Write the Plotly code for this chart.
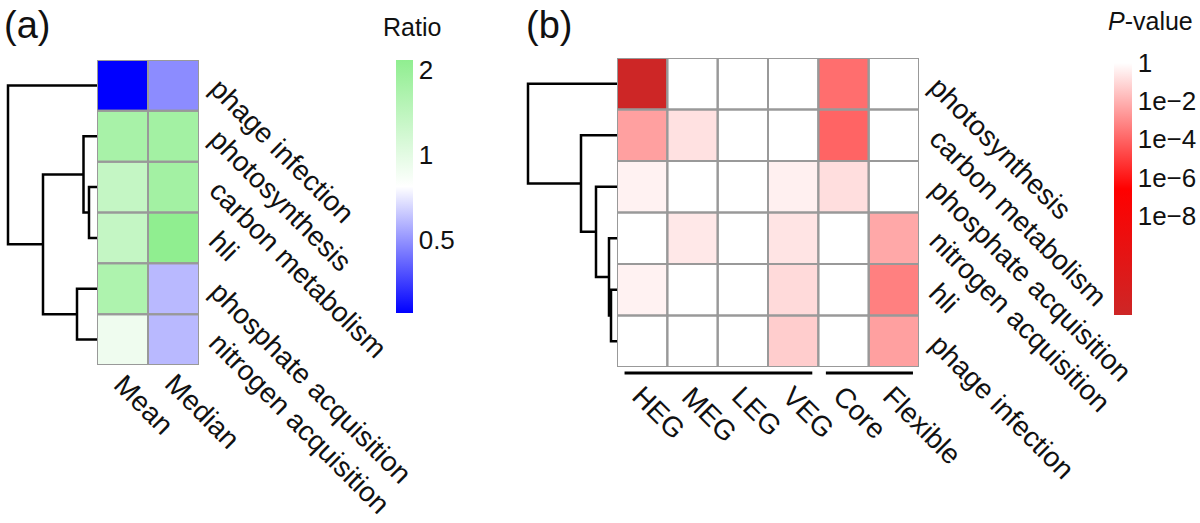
import math
import plotly.graph_objects as go

W, H = 1200, 523
FONT = "Liberation Sans"
FS = 28      # row / column labels
FT = 26      # colorbar tick labels
FTT = 25     # colorbar titles

# ---------------- Panel (a) data ----------------
ratio_rows = ["phage infection", "photosynthesis", "carbon metabolism", "hli",
              "phosphate acquisition", "nitrogen acquisition"]
ratio_cols = ["Mean", "Median"]
ratio_log2_mean = [-1.86, 0.80, 0.42, 0.42, 0.72, -0.15]
ratio_log2_median = [-1.04, 0.86, 0.86, 1.12, -0.78, -0.78]
ratio_ticks = [2, 1, 0.5]
ratio_log2_range = [-1.86, 1.12]
# dendrogram merges (child A, child B, height); nodes 6.. are merged clusters
ratio_merges = [(2, 3, 8), (1, 6, 13.5), (4, 5, 20), (7, 8, 54), (0, 9, 89)]

# ---------------- Panel (b) data ----------------
p_rows = ["photosynthesis", "carbon metabolism", "phosphate acquisition",
          "nitrogen acquisition", "hli", "phage infection"]
p_cols = ["HEG", "MEG", "LEG", "VEG", "Core", "Flexible"]
p_groups = [["HEG", "MEG", "LEG", "VEG"], ["Core", "Flexible"]]
p_log10_HEG = [-13.2, -2.46, -0.34, 0.0, -0.34, 0.0]
p_log10_MEG = [0.0, -0.78, 0.0, -0.6, 0.0, 0.0]
p_log10_LEG = [0.0, 0.0, 0.0, 0.0, 0.0, 0.0]
p_log10_VEG = [0.0, 0.0, -0.39, -0.7, -0.96, -1.3]
p_log10_Core = [-3.75, -4.0, -0.85, 0.0, 0.0, 0.0]
p_log10_Flexible = [0.0, 0.0, 0.0, -2.25, -3.3, -2.46]
p_ticks = [1, 1e-2, 1e-4, 1e-6, 1e-8]
p_tick_text = ["1", "1e\u22122", "1e\u22124", "1e\u22126", "1e\u22128"]
p_log10_range = [-13.2, 0.0]
p_merges = [(4, 5, 6), (3, 6, 8), (2, 7, 21), (1, 8, 36), (0, 9, 89)]


def px(x):
    return x / W


def py(y):
    return 1 - y / H


def dendro(merges, n):
    pos = {i: float(i) for i in range(n)}
    hgt = {i: 0.0 for i in range(n)}
    xs, ys = [], []
    for k, (a, b, h) in enumerate(merges):
        xs += [hgt[a], h, h, hgt[b], None]
        ys += [pos[a], pos[a], pos[b], pos[b], None]
        pos[n + k] = (pos[a] + pos[b]) / 2
        hgt[n + k] = h
    return xs, ys


fig = go.Figure()
tickf = dict(size=FT, family=FONT, color="#111")

# ---- heatmap (a)
za = [[m, d] for m, d in zip(ratio_log2_mean, ratio_log2_median)]
fig.add_trace(go.Heatmap(
    z=za, x=list(range(len(ratio_cols))), y=list(range(len(ratio_rows))),
    xaxis="x", yaxis="y",
    zmin=ratio_log2_range[0], zmax=ratio_log2_range[1],
    colorscale=[[0, "#0000FF"], [0.5, "#FFFFFF"], [1, "#90EE90"]],
    colorbar=dict(
        x=px(396), xanchor="left", xpad=0, y=py(60), yanchor="top", ypad=0,
        len=253, lenmode="pixels", thickness=17, outlinewidth=0,
        tickvals=[math.log2(v) for v in ratio_ticks],
        ticktext=[str(v) for v in ratio_ticks],
        ticks="", ticklen=0, tickfont=tickf,
    ),
    hoverinfo="skip",
))

# ---- heatmap (b)
pcols_vals = [p_log10_HEG, p_log10_MEG, p_log10_LEG, p_log10_VEG, p_log10_Core, p_log10_Flexible]
zb = [[pcols_vals[j][i] for j in range(len(p_cols))] for i in range(len(p_rows))]
fig.add_trace(go.Heatmap(
    z=zb, x=list(range(len(p_cols))), y=list(range(len(p_rows))),
    xaxis="x2", yaxis="y2",
    zmin=p_log10_range[0], zmax=p_log10_range[1],
    colorscale=[[0, "#CD2626"], [0.5, "#FF0000"], [1, "#FFFFFF"]],
    colorbar=dict(
        x=px(1114), xanchor="left", xpad=0, y=py(63), yanchor="top", ypad=0,
        len=252, lenmode="pixels", thickness=18, outlinewidth=0,
        tickvals=[math.log10(v) for v in p_ticks], ticktext=p_tick_text,
        ticks="", ticklen=0, tickfont=tickf,
    ),
    hoverinfo="skip",
))

# ---- dendrograms
dxa, dya = dendro(ratio_merges, len(ratio_rows))
fig.add_trace(go.Scatter(x=dxa, y=dya, xaxis="x3", yaxis="y3", mode="lines",
                         line=dict(color="black", width=2.5), hoverinfo="skip", showlegend=False))
dxb, dyb = dendro(p_merges, len(p_rows))
fig.add_trace(go.Scatter(x=dxb, y=dyb, xaxis="x4", yaxis="y4", mode="lines",
                         line=dict(color="black", width=2.5), hoverinfo="skip", showlegend=False))

hidden = dict(showticklabels=False, showgrid=False, zeroline=False, ticks="", showline=False)

ya_dom = [py(365), py(60)]
yb_dom = [py(367), py(58)]
fig.update_layout(
    width=W, height=H, margin=dict(l=0, r=0, t=0, b=0),
    paper_bgcolor="white", plot_bgcolor="white", showlegend=False,
    font=dict(family=FONT, size=FS, color="#111"),
    xaxis=dict(domain=[px(97), px(199)], range=[-0.5, len(ratio_cols) - 0.5], anchor="y", **hidden),
    yaxis=dict(domain=ya_dom, range=[len(ratio_rows) - 0.5, -0.5], anchor="x", **hidden),
    xaxis2=dict(domain=[px(617), px(919)], range=[-0.5, len(p_cols) - 0.5], anchor="y2", **hidden),
    yaxis2=dict(domain=yb_dom, range=[len(p_rows) - 0.5, -0.5], anchor="x2", **hidden),
    xaxis3=dict(domain=[0, px(97)], range=[97, 0], anchor="y3", **hidden),
    yaxis3=dict(domain=ya_dom, range=[len(ratio_rows) - 0.5, -0.5], anchor="x3", **hidden),
    xaxis4=dict(domain=[px(520), px(617)], range=[97, 0], anchor="y4", **hidden),
    yaxis4=dict(domain=yb_dom, range=[len(p_rows) - 0.5, -0.5], anchor="x4", **hidden),
)

shapes = []
# cell borders
for xr, yr, nr, nc in [("x", "y", len(ratio_rows), len(ratio_cols)), ("x2", "y2", len(p_rows), len(p_cols))]:
    for i in range(nr):
        for j in range(nc):
            shapes.append(dict(type="rect", xref=xr, yref=yr, x0=j - 0.5, x1=j + 0.5,
                               y0=i - 0.5, y1=i + 0.5, line=dict(color="#999999", width=2),
                               fillcolor="rgba(0,0,0,0)", layer="above"))
# group bars under panel (b)
for grp in p_groups:
    j0 = p_cols.index(grp[0])
    j1 = p_cols.index(grp[-1])
    shapes.append(dict(type="line", xref="x2", yref="paper", x0=j0 - 0.35, x1=j1 + 0.38,
                       y0=py(373), y1=py(373), line=dict(color="black", width=3)))
fig.update_layout(shapes=shapes)

ann = []
tf = dict(family=FONT, size=FS, color="#111")
for i, name in enumerate(ratio_rows):
    ann.append(dict(text=name, xref="paper", x=px(202), yref="y", y=i, yshift=14,
                    xanchor="left", yanchor="top", textangle=45, showarrow=False, font=tf, borderpad=0))
for j, name in enumerate(ratio_cols):
    ann.append(dict(text=name, xref="x", x=j, xshift=-16, yref="paper", y=py(367),
                    xanchor="left", yanchor="top", textangle=45, showarrow=False, font=tf, borderpad=0))
for i, name in enumerate(p_rows):
    ann.append(dict(text=name, xref="paper", x=px(922), yref="y2", y=i, yshift=14,
                    xanchor="left", yanchor="top", textangle=45, showarrow=False, font=tf, borderpad=0))
for j, name in enumerate(p_cols):
    ann.append(dict(text=name, xref="x2", x=j, xshift=-18, yref="paper", y=py(379),
                    xanchor="left", yanchor="top", textangle=45, showarrow=False, font=tf, borderpad=0))
ttf = dict(family=FONT, size=FTT, color="#111")
ann.append(dict(text="Ratio", xref="paper", x=px(412), yref="paper", y=py(27), xanchor="center",
                yanchor="middle", showarrow=False, font=ttf))
ann.append(dict(text="<i>P</i>-value", xref="paper", x=px(1150), yref="paper", y=py(21), xanchor="center",
                yanchor="middle", showarrow=False, font=ttf))
ann.append(dict(text="(a)", xref="paper", x=px(2), yref="paper", y=py(25), xanchor="left",
                yanchor="middle", showarrow=False, font=dict(family=FONT, size=38, color="#111")))
ann.append(dict(text="(b)", xref="paper", x=px(524), yref="paper", y=py(25), xanchor="left",
                yanchor="middle", showarrow=False, font=dict(family=FONT, size=38, color="#111")))
fig.update_layout(annotations=ann)

fig.write_html("out.html", config={"displayModeBar": False},
               post_script="document.body.style.margin='0px';")
